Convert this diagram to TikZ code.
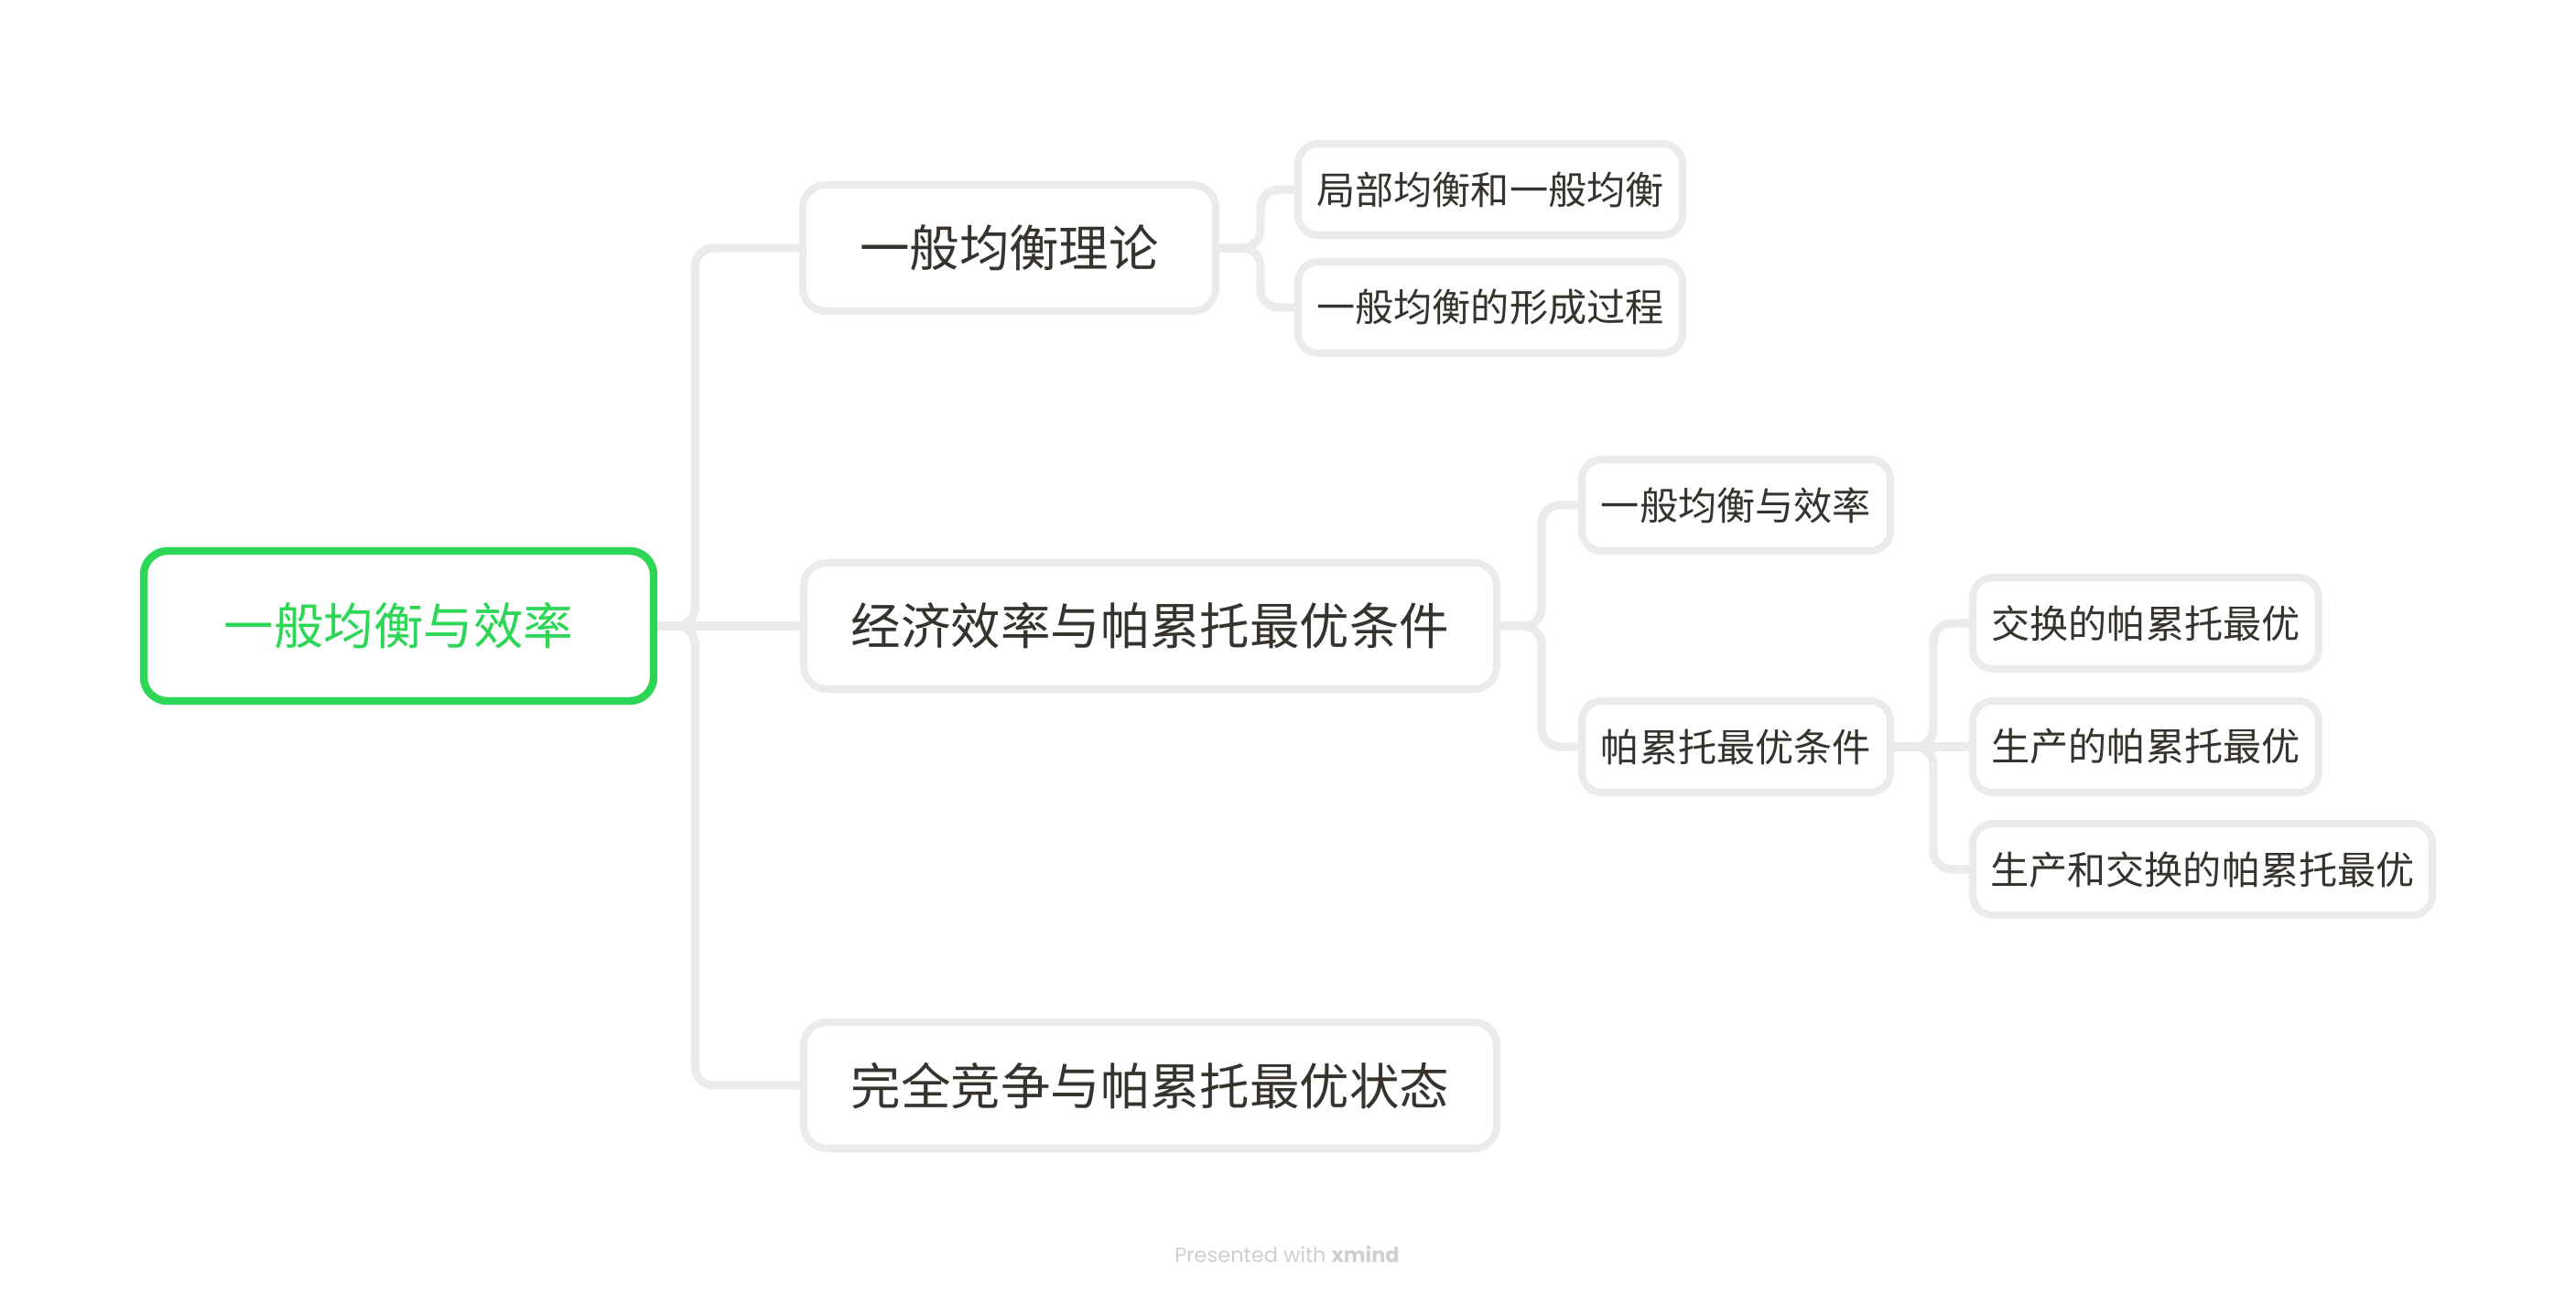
\documentclass[tikz,border=0pt]{standalone}
\usepackage{fontspec}
\usepackage{tikz}
\usetikzlibrary{backgrounds}
\newfontfamily\cjk{Noto Sans CJK SC}
\newfontfamily\xmfont{Poppins}
\definecolor{MindGreen}{HTML}{2DD655}
\definecolor{LineGray}{HTML}{EBEBEB}
\definecolor{InkDark}{HTML}{36322D}
\definecolor{FootGray}{HTML}{CFCFCF}
\newcommand{\mmroot}[3]{\node[draw=MindGreen,line width=2.4pt,fill=white,rounded corners=0.26cm,
  minimum width=5.57cm,minimum height=1.64cm,align=center,
  font=\cjk\fontsize{15.5}{18}\selectfont,text=MindGreen] (#1) at (#2) {#3};}
\newcommand{\mmmain}[4]{\node[draw=LineGray,line width=2.3pt,fill=white,rounded corners=0.25cm,
  minimum width=#2,minimum height=1.38cm,align=center,
  font=\cjk\fontsize{15.5}{18}\selectfont,text=InkDark] (#1) at (#3) {#4};}
\newcommand{\mmsub}[4]{\node[draw=LineGray,line width=2.3pt,fill=white,rounded corners=0.22cm,
  minimum width=#2,minimum height=1.0cm,align=center,
  font=\cjk\fontsize{12}{14}\selectfont,text=InkDark] (#1) at (#3) {#4};}

\begin{document}
\begin{tikzpicture}[
  link/.style={draw=LineGray, line width=2.6pt, rounded corners=0.2cm},
]
\useasboundingbox (0,0) rectangle (28.14,-14.13);

%% ── Central topic ────────────────────────────────────────────────────────
\mmroot{root}{4.355,-6.84}{一般均衡与效率}

%% ── Main topics ──────────────────────────────────────────────────────────
\mmmain{th}{4.51cm}{11.025,-2.71}{一般均衡理论}
\mmmain{eff}{7.57cm}{12.565,-6.84}{经济效率与帕累托最优条件}
\mmmain{comp}{7.57cm}{12.565,-11.86}{完全竞争与帕累托最优状态}

%% ── Subtopics: theory ────────────────────────────────────────────────────
\mmsub{th1}{4.20cm}{16.28,-2.07}{局部均衡和一般均衡}
\mmsub{th2}{4.20cm}{16.28,-3.36}{一般均衡的形成过程}

%% ── Subtopics: efficiency ────────────────────────────────────────────────
\mmsub{ef1}{3.37cm}{18.965,-5.52}{一般均衡与效率}
\mmsub{ef2}{3.37cm}{18.965,-8.16}{帕累托最优条件}

%% ── Pareto conditions ────────────────────────────────────────────────────
\mmsub{pa1}{3.78cm}{23.44,-6.81}{交换的帕累托最优}
\mmsub{pa2}{3.78cm}{23.44,-8.16}{生产的帕累托最优}
\mmsub{pa3}{5.02cm}{24.06,-9.50}{生产和交换的帕累托最优}

%% ── Branch lines ─────────────────────────────────────────────────────────
\begin{pgfonlayer}{background}
\draw[link] (root.east) -- ++(0.41,0) |- (th.west);
\draw[link] (root.east) -- (eff.west);
\draw[link] (root.east) -- ++(0.41,0) |- (comp.west);

\draw[link] (th.east) -- ++(0.45,0) |- (th1.west);
\draw[link] (th.east) -- ++(0.45,0) |- (th2.west);

\draw[link] (eff.east) -- ++(0.45,0) |- (ef1.west);
\draw[link] (eff.east) -- ++(0.45,0) |- (ef2.west);

\draw[link] (ef2.east) -- ++(0.43,0) |- (pa1.west);
\draw[link] (ef2.east) -- (pa2.west);
\draw[link] (ef2.east) -- ++(0.43,0) |- (pa3.west);
\end{pgfonlayer}

%% ── Footer ───────────────────────────────────────────────────────────────
\node[font=\xmfont\fontsize{6.4}{8}\selectfont, text=FootGray] (credit) at (14.06,-13.71)
  {Presented with \textbf{xmind}};

\end{tikzpicture}
\end{document}
